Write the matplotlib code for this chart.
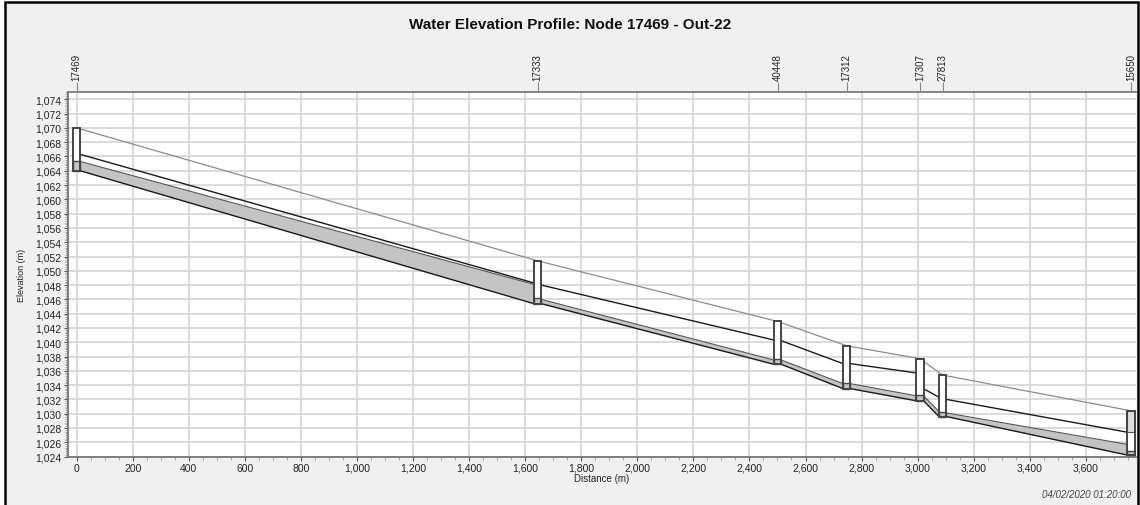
import matplotlib
matplotlib.use('Agg')
import matplotlib.pyplot as plt
from matplotlib.patches import Rectangle
from matplotlib.ticker import MultipleLocator, FuncFormatter

# nodes along the profile
node_ids = ['17469', '17333', '40448', '17312', '17307', '27813', '15650']
node_dist = [0, 1644, 2501, 2747, 3008, 3089, 3761]
node_invert = [1064.0, 1045.4, 1036.9, 1033.5, 1031.8, 1029.6, 1024.2]
node_rim = [1070.0, 1051.4, 1042.9, 1039.5, 1037.7, 1035.4, 1030.4]
node_water = [1065.4, 1046.2, 1037.6, 1034.3, 1032.6, 1030.2, 1024.7]

# conduits between consecutive nodes (upstream / downstream ends)
crown_up = [1066.3, 1048.0, 1040.2, 1037.0, 1033.5, 1032.0]
crown_dn = [1048.3, 1040.3, 1037.0, 1035.7, 1032.3, 1027.4]
water_up = [1065.3, 1046.0, 1037.5, 1034.2, 1032.5, 1030.1]
water_dn = [1048.1, 1037.5, 1034.2, 1032.5, 1030.3, 1025.7]

plt.rcParams['font.family'] = ['Liberation Sans', 'DejaVu Sans']

fig = plt.figure(figsize=(11.4, 5.06), dpi=100, facecolor='white')
fig.add_artist(Rectangle((5 / 1140, -0.02), 1133 / 1140, 1.02 - 3 / 506,
                         transform=fig.transFigure, facecolor='#f0f0f0',
                         edgecolor='black', lw=1.8, zorder=-10))

ax = fig.add_axes([68 / 1140, 1 - 457.5 / 506, (1136 - 68) / 1140, (457.5 - 92.5) / 506])
ax.set_facecolor('white')

box_w = 26
fill_c = '#c4c4c4'

# ground line through rims
ax.plot(node_dist, node_rim, color='#8c8c8c', lw=0.9, zorder=3)

for i in range(len(node_dist) - 1):
    x0 = node_dist[i] + box_w / 2
    x1 = node_dist[i + 1] - box_w / 2
    inv0, inv1 = node_invert[i], node_invert[i + 1]
    ax.fill_between([x0, x1], [inv0, inv1], [water_up[i], water_dn[i]],
                    color=fill_c, lw=0, zorder=2)
    ax.plot([x0, x1], [water_up[i], water_dn[i]], color='#555555', lw=0.8, zorder=3)
    ax.plot([x0, x1], [inv0, inv1], color='#1a1a1a', lw=1.0, zorder=3)
    ax.plot([x0, x1], [crown_up[i], crown_dn[i]], color='#1a1a1a', lw=1.0, zorder=3)

for i, x in enumerate(node_dist):
    left = x - box_w / 2
    ax.add_patch(Rectangle((left, node_invert[i]), box_w, node_rim[i] - node_invert[i],
                           facecolor='white', edgecolor='none', zorder=4))
    ax.add_patch(Rectangle((left, node_invert[i]), box_w, node_water[i] - node_invert[i],
                           facecolor=fill_c, edgecolor='#444444', lw=1.0, zorder=5))
    if i == len(node_dist) - 1:
        ax.add_patch(Rectangle((left, crown_dn[-1]), box_w, node_rim[i] - crown_dn[-1],
                               facecolor='#dedede', edgecolor='#555555', lw=0.8, zorder=5))
    ax.add_patch(Rectangle((left, node_invert[i]), box_w, node_rim[i] - node_invert[i],
                           facecolor='none', edgecolor='#444444', lw=1.4, zorder=6))

ax.set_xlim(-31, 3779)
ax.set_ylim(1024, 1075.1)

ax.xaxis.set_major_locator(MultipleLocator(200))
ax.xaxis.set_minor_locator(MultipleLocator(50))
ax.yaxis.set_major_locator(MultipleLocator(2))
ax.yaxis.set_minor_locator(MultipleLocator(0.25))
fmt = FuncFormatter(lambda v, p: f'{v:,.0f}')
ax.xaxis.set_major_formatter(fmt)
ax.yaxis.set_major_formatter(fmt)
ax.grid(True, which='major', color='#d8d8d8', lw=1.3, zorder=0)
ax.set_axisbelow(True)

ax.tick_params(axis='both', which='major', labelsize=7.5, colors='#555555',
               labelcolor='#222222', length=3, width=0.8, pad=2)
ax.tick_params(axis='both', which='minor', colors='#999999', length=2, width=0.6)
ax.tick_params(axis='x', pad=1.5)
for s in ax.spines.values():
    s.set_color('#6e6e6e')
    s.set_linewidth(1.2)
ax.spines['right'].set_visible(False)

ax.set_xlabel('Distance (m)', fontsize=7, labelpad=0.5, color='#222222')
ax.set_ylabel('Elevation (m)', fontsize=6.5, labelpad=6, color='#222222')

top = ax.secondary_xaxis('top')
top.set_xticks(node_dist)
top.set_xticklabels(node_ids, rotation=90, fontsize=7, color='#222222')
top.tick_params(length=6.5, width=0.8, colors='#888888', labelcolor='#222222', pad=1.5)
top.spines['top'].set_visible(False)

fig.text(0.5, 1 - 25 / 506, 'Water Elevation Profile: Node 17469 - Out-22',
         ha='center', va='center', fontsize=11, fontweight='bold', color='#111111')
fig.text(1131 / 1140, 1 - 495 / 506, '04/02/2020 01:20:00', ha='right', va='center',
         fontsize=7, style='italic', color='#444444')

fig.savefig('out.png', dpi=100, facecolor=fig.get_facecolor())
